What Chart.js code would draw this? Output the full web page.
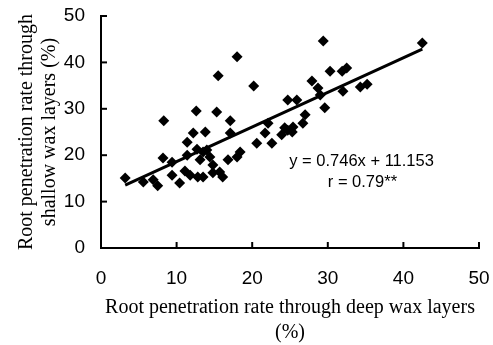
<!DOCTYPE html>
<html>
<head>
<meta charset="utf-8">
<script src="https://cdn.jsdelivr.net/npm/chart.js@4"></script>
<style>
  body { margin: 0; background: #fff; }
  #wrap { width: 493px; height: 345px; }
</style>
</head>
<body>
<div id="wrap"><canvas id="myChart"></canvas></div>
<script>
// deep wax layers (x) vs shallow wax layers (y)
var deepRate = [3.2, 5.6, 6.9, 7.5, 8.2, 8.3, 9.4, 9.4, 10.4, 11.4, 11.4, 11.1, 11.8, 12.2, 12.6,
    12.7, 12.8, 13.5, 13.1, 13.5, 13.8, 14.0, 14.4, 14.8, 14.8, 15.3, 15.5, 15.7, 16.1, 16.8,
    17.1, 17.1, 18.0, 18.0, 18.4, 20.2, 20.6, 21.7, 22.1, 22.6, 23.9, 24.3, 24.7, 24.7, 25.4,
    25.3, 25.9, 26.7, 27.0, 27.9, 28.7, 29.0, 29.4, 29.6, 30.3, 31.9, 32.5, 32.0, 34.3, 35.2, 42.5];
var shallowRate = [15.1, 14.2, 14.7, 13.4, 19.4, 27.4, 18.5, 15.7, 14.0, 22.8, 20.0, 16.6, 15.7, 24.8, 29.5,
    21.3, 15.3, 15.3, 19.0, 20.7, 25.0, 21.1, 19.6, 17.9, 16.2, 29.3, 37.1, 16.4, 15.3, 19.0,
    27.4, 24.8, 41.2, 19.6, 20.7, 34.9, 22.6, 24.8, 26.9, 22.6, 24.4, 25.9, 31.9, 25.4, 26.1,
    25.0, 31.9, 26.9, 28.7, 36.0, 34.5, 33.0, 44.6, 30.2, 38.1, 38.1, 38.8, 33.8, 34.7, 35.3, 44.2];
var tickValues = [0, 10, 20, 30, 40, 50];
var slope = 0.746;
var intercept = 11.153;
var fitRange = [3.2, 42.5];

var points = deepRate.map(function (x, i) { return { x: x, y: shallowRate[i] }; });
var fitLine = fitRange.map(function (x) { return { x: x, y: slope * x + intercept }; });

// tick marks point inward, plus the equation text
var extras = {
    id: 'extras',
    afterDraw: function (chart) {
        var ctx = chart.ctx;
        var xs = chart.scales.x, ys = chart.scales.y;
        var area = chart.chartArea;
        ctx.save();
        ctx.strokeStyle = '#000';
        ctx.lineWidth = 2;
        tickValues.forEach(function (v) {
            if (v === 0) return;
            var px = xs.getPixelForValue(v);
            ctx.beginPath();
            ctx.moveTo(px, area.bottom);
            ctx.lineTo(px, area.bottom - 6);
            ctx.stroke();
            var py = ys.getPixelForValue(v);
            ctx.beginPath();
            ctx.moveTo(area.left, py);
            ctx.lineTo(area.left + 6, py);
            ctx.stroke();
        });
        ctx.fillStyle = '#000';
        ctx.font = '16.5px "Liberation Sans", Arial, sans-serif';
        ctx.textBaseline = 'middle';
        ctx.textAlign = 'left';
        ctx.fillText('y = 0.746x + 11.153', xs.getPixelForValue(24.9), ys.getPixelForValue(18.75));
        ctx.fillText('r = 0.79**', xs.getPixelForValue(30.0), ys.getPixelForValue(14.2));
        ctx.restore();
    }
};

var ctx = document.getElementById('myChart').getContext('2d');
var myChart = new Chart(ctx, {
    type: 'scatter',
    data: {
        datasets: [{
            data: points,
            pointStyle: 'rectRot',
            pointRadius: 5.5,
            backgroundColor: '#000',
            borderColor: '#000',
            borderWidth: 0
        }, {
            type: 'line',
            data: fitLine,
            borderColor: '#000',
            borderWidth: 3,
            pointRadius: 0,
            fill: false
        }]
    },
    options: {
        responsive: true,
        maintainAspectRatio: false,
        animation: false,
        layout: { padding: { left: 0, right: 14, top: 16, bottom: 0 } },
        plugins: {
            legend: { display: false },
            tooltip: { enabled: false }
        },
        scales: {
            x: {
                type: 'linear',
                min: 0,
                max: 50,
                afterBuildTicks: function (scale) {
                    scale.ticks = tickValues.map(function (v) { return { value: v }; });
                },
                afterFit: function (scale) {
                    scale.height = 97;
                    scale.paddingLeft = 0;
                    scale.paddingRight = 0;
                },
                grid: { display: false, drawTicks: false },
                border: { display: true, color: '#000', width: 2 },
                ticks: {
                    color: '#000',
                    padding: 19,
                    maxRotation: 0,
                    font: { family: '"Liberation Sans", Arial, sans-serif', size: 19 }
                },
                title: {
                    display: true,
                    text: ['Root penetration rate through deep wax layers', '(%)'],
                    color: '#000',
                    padding: { top: 0, bottom: 0 },
                    font: { family: '"Liberation Serif", "Times New Roman", serif', size: 20, lineHeight: 1.25 }
                }
            },
            y: {
                type: 'linear',
                min: 0,
                max: 50,
                afterBuildTicks: function (scale) {
                    scale.ticks = tickValues.map(function (v) { return { value: v }; });
                },
                afterFit: function (scale) {
                    scale.width = 101;
                    scale.paddingTop = 0;
                    scale.paddingBottom = 0;
                },
                grid: { display: false, drawTicks: false },
                border: { display: true, color: '#000', width: 2 },
                ticks: {
                    color: '#000',
                    padding: 16,
                    font: { family: '"Liberation Sans", Arial, sans-serif', size: 19 }
                },
                title: {
                    display: true,
                    text: ['Root penetration rate through', 'shallow wax layers (%)'],
                    color: '#000',
                    padding: { top: 15.5, bottom: 0 },
                    font: { family: '"Liberation Serif", "Times New Roman", serif', size: 20, lineHeight: 1.15 }
                }
            }
        }
    },
    plugins: [extras]
});
</script>
</body>
</html>
